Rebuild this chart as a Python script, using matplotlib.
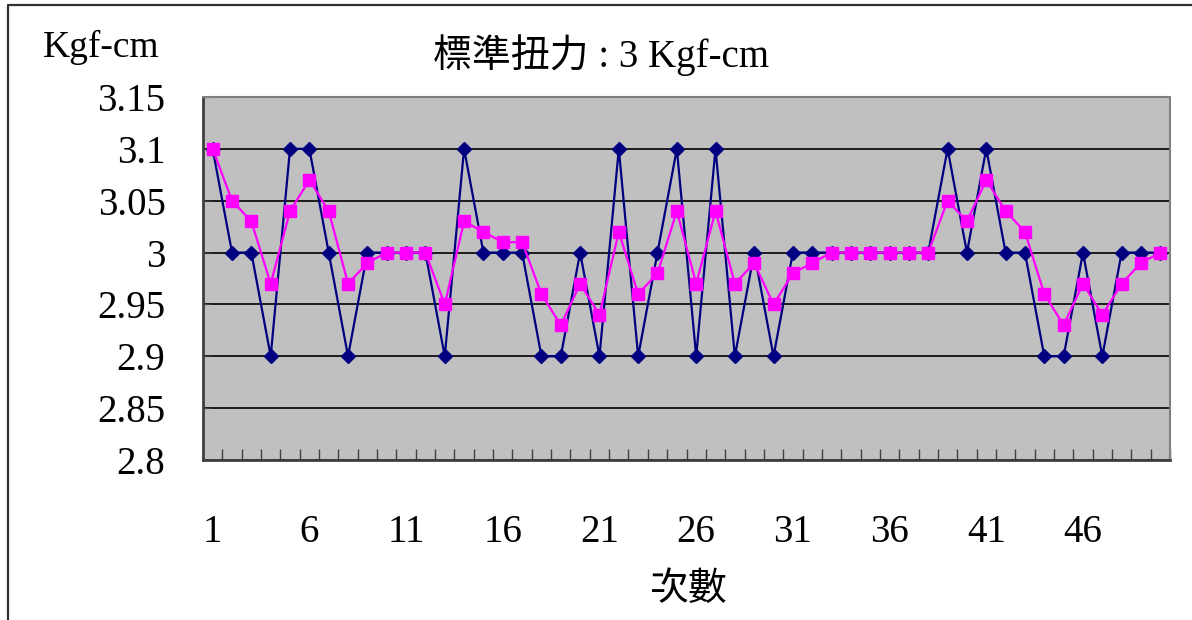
import matplotlib
matplotlib.use("Agg")
import matplotlib.pyplot as plt
from matplotlib.lines import Line2D
import numpy as np

plt.rcParams['font.family'] = ['Liberation Serif', 'Noto Sans CJK TC', 'DejaVu Sans']

# measurements 1..50
runs = list(range(1, 51))
measured = [3.1, 3.0, 3.0, 2.9, 3.1, 3.1, 3.0, 2.9, 3.0, 3.0,
            3.0, 3.0, 2.9, 3.1, 3.0, 3.0, 3.0, 2.9, 2.9, 3.0,
            2.9, 3.1, 2.9, 3.0, 3.1, 2.9, 3.1, 2.9, 3.0, 2.9,
            3.0, 3.0, 3.0, 3.0, 3.0, 3.0, 3.0, 3.0, 3.1, 3.0,
            3.1, 3.0, 3.0, 2.9, 2.9, 3.0, 2.9, 3.0, 3.0, 3.0]
smoothed = [3.1, 3.05, 3.03, 2.97, 3.04, 3.07, 3.04, 2.97, 2.99, 3.0,
            3.0, 3.0, 2.95, 3.03, 3.02, 3.01, 3.01, 2.96, 2.93, 2.97,
            2.94, 3.02, 2.96, 2.98, 3.04, 2.97, 3.04, 2.97, 2.99, 2.95,
            2.98, 2.99, 3.0, 3.0, 3.0, 3.0, 3.0, 3.0, 3.05, 3.03,
            3.07, 3.04, 3.02, 2.96, 2.93, 2.97, 2.94, 2.97, 2.99, 3.0]
yticks = [2.8, 2.85, 2.9, 2.95, 3.0, 3.05, 3.1, 3.15]
ytick_labels = ['2.8', '2.85', '2.9', '2.95', '3', '3.05', '3.1', '3.15']
xtick_pos = [1, 6, 11, 16, 21, 26, 31, 36, 41, 46]

fig = plt.figure(figsize=(11.92, 6.2), dpi=100)
ax = fig.add_axes([203/1192, 1 - 460/620, (1170-203)/1192, (460-97)/620])
ax.set_facecolor('#C0C0C0')

ax.plot(runs, measured, color='#000080', lw=1.6, marker='D', ms=7,
        markerfacecolor='#000080', markeredgecolor='#000080', zorder=3)
ax.plot(runs, smoothed, color='#FF00FF', lw=1.6, marker='s', ms=8.5,
        markerfacecolor='#FF00FF', markeredgecolor='#FF00FF', zorder=4)

ax.set_xlim(0.5, 50.5)
ax.set_ylim(2.8, 3.15)
ax.set_yticks(yticks)
ax.set_yticklabels(ytick_labels)
ax.yaxis.grid(True, color='black', lw=1.2)
ax.set_axisbelow(True)

ax.set_xticks(xtick_pos)
ax.set_xticks(np.arange(0.5, 51, 1), minor=True)
ax.tick_params(axis='x', which='major', length=0, pad=39, labelsize=28)
ax.tick_params(axis='x', which='minor', direction='in', length=8, width=1, color='#404040')
ax.tick_params(axis='y', direction='in', length=5, pad=27, labelsize=28, color='#404040')

for s in ['left', 'bottom']:
    ax.spines[s].set_color('#404040')
    ax.spines[s].set_linewidth(2)
for s in ['top', 'right']:
    ax.spines[s].set_color('#808080')
    ax.spines[s].set_linewidth(1.5)

fig.text(601/1192, 1 - 55/620, '標準扭力 : 3 Kgf-cm', fontsize=28, ha='center', va='center')
fig.text(101/1192, 1 - 47/620, 'Kgf-cm', fontsize=27, ha='center', va='center')
fig.text(688/1192, 1 - 590/620, '次數', fontsize=28, ha='center', va='center')

# outer frame (left and top)
fig.add_artist(Line2D([8/1192, 8/1192, 1], [0, 1 - 5/620, 1 - 5/620],
                      transform=fig.transFigure, color='#303030', lw=1.6))

fig.savefig('out.png', dpi=100)
